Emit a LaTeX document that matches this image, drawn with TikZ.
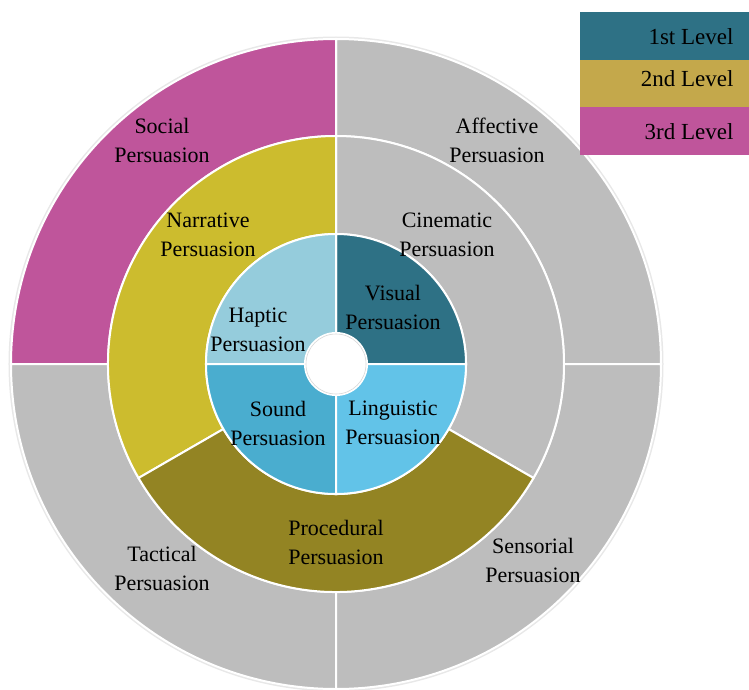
\documentclass[tikz,border=0pt]{standalone}
\usepackage{fontspec}
\setmainfont{Liberation Serif}

\definecolor{visualc}{HTML}{2E7185}
\definecolor{hapticc}{HTML}{95CCDC}
\definecolor{soundc}{HTML}{4AADCF}
\definecolor{linguisticc}{HTML}{62C3E8}
\definecolor{narrativec}{HTML}{CCBC2E}
\definecolor{proceduralc}{HTML}{938423}
\definecolor{graysegc}{HTML}{BDBDBD}
\definecolor{socialc}{HTML}{BF559B}
\definecolor{secondlevelc}{HTML}{C4A84B}

\begin{document}
\begin{tikzpicture}[
        x=1pt,
        y=1pt,
        seg/.style={draw=white, line width=2pt},
        lbl/.style={align=center, font=\fontsize{22}{29}\selectfont, text=black},
        legendlbl/.style={anchor=east, font=\fontsize{23}{25}\selectfont, text=black}
    ]

    \useasboundingbox (-336,-325) rectangle (413,364);

    % faint shadow of the chart
    \fill[gray!18] (0,0) circle (327.5);

    % outer ring (3rd level)
    \filldraw[seg, fill=graysegc] (0:228) arc (0:90:228) -- (90:325) arc (90:0:325) -- cycle;
    \filldraw[seg, fill=socialc] (90:228) arc (90:180:228) -- (180:325) arc (180:90:325) -- cycle;
    \filldraw[seg, fill=graysegc] (180:228) arc (180:270:228) -- (270:325) arc (270:180:325) -- cycle;
    \filldraw[seg, fill=graysegc] (270:228) arc (270:360:228) -- (360:325) arc (360:270:325) -- cycle;

    % middle ring (2nd level)
    \filldraw[seg, fill=graysegc] (-30:130) arc (-30:90:130) -- (90:228) arc (90:-30:228) -- cycle;
    \filldraw[seg, fill=narrativec] (90:130) arc (90:210:130) -- (210:228) arc (210:90:228) -- cycle;
    \filldraw[seg, fill=proceduralc] (210:130) arc (210:330:130) -- (330:228) arc (330:210:228) -- cycle;

    % inner ring (1st level)
    \filldraw[seg, fill=visualc] (0:31) arc (0:90:31) -- (90:130) arc (90:0:130) -- cycle;
    \filldraw[seg, fill=hapticc] (90:31) arc (90:180:31) -- (180:130) arc (180:90:130) -- cycle;
    \filldraw[seg, fill=soundc] (180:31) arc (180:270:31) -- (270:130) arc (270:180:130) -- cycle;
    \filldraw[seg, fill=linguisticc] (270:31) arc (270:360:31) -- (360:130) arc (360:270:130) -- cycle;

    % hole
    \filldraw[fill=white, draw=gray!30, line width=0.6pt] (0,0) circle (30);

    % labels
    \node[lbl] (visual) at (57,57) {Visual\\Persuasion};
    \node[lbl] (haptic) at (-78,34) {Haptic\\Persuasion};
    \node[lbl] (sound) at (-58,-59) {Sound\\Persuasion};
    \node[lbl] (linguistic) at (57,-59) {Linguistic\\Persuasion};

    \node[lbl] (cinematic) at (111,129) {Cinematic\\Persuasion};
    \node[lbl] (narrative) at (-128,129) {Narrative\\Persuasion};
    \node[lbl] (procedural) at (0,-178) {Procedural\\Persuasion};

    \node[lbl] (social) at (-174,224) {Social\\Persuasion};
    \node[lbl] (affective) at (161,224) {Affective\\Persuasion};
    \node[lbl] (tactical) at (-174,-204) {Tactical\\Persuasion};
    \node[lbl] (sensorial) at (197,-196) {Sensorial\\Persuasion};

    % legend
    \fill[visualc] (244,304) rectangle (413,352);
    \fill[secondlevelc] (244,257) rectangle (413,304);
    \fill[socialc] (244,209) rectangle (413,257);

    \node[legendlbl] (first) at (401,327) {1st Level};
    \node[legendlbl] (second) at (401,285) {2nd Level};
    \node[legendlbl] (third) at (401,232) {3rd Level};

\end{tikzpicture}
\end{document}
